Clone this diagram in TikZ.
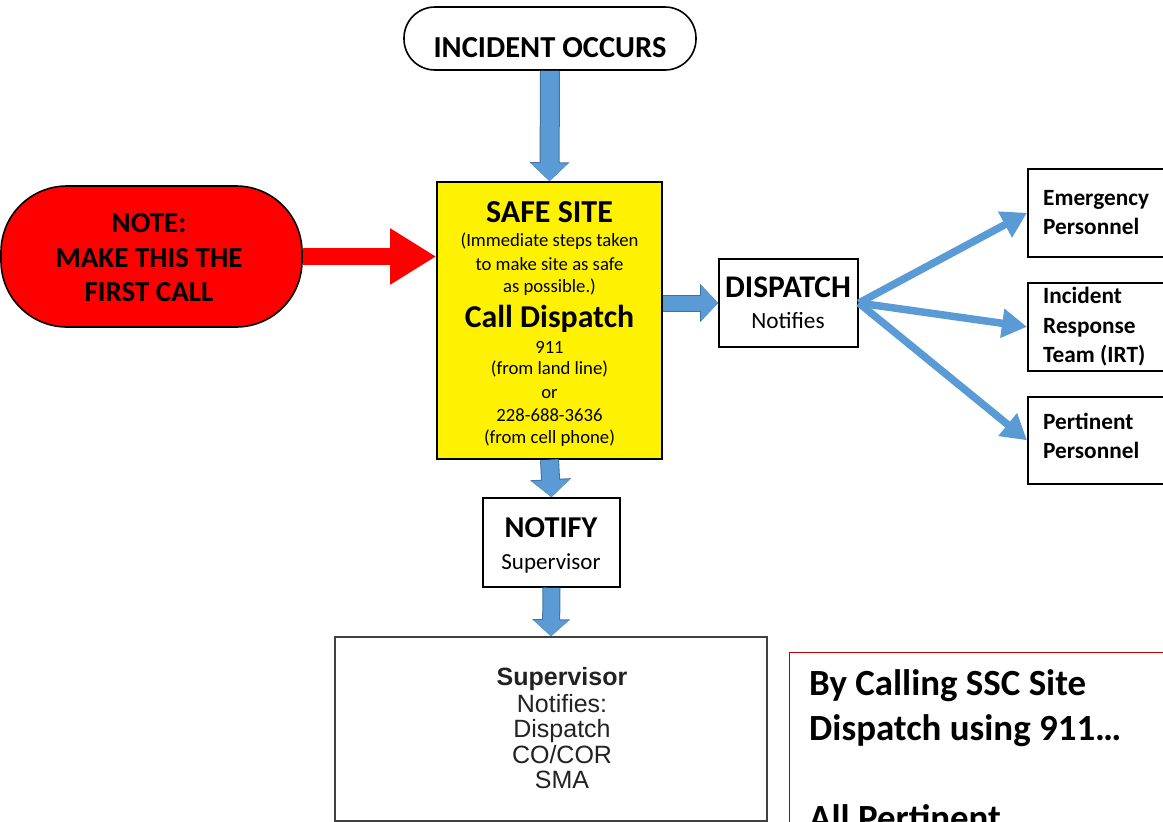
\documentclass[tikz,border=0pt]{standalone}
\usepackage{fontspec}
\setmainfont{Carlito}
\newfontfamily\arialf{Liberation Sans}
\usetikzlibrary{arrows.meta}
\definecolor{arrblue}{HTML}{5B9BD5}
\definecolor{arrdark}{HTML}{41719C}
\definecolor{notered}{HTML}{FF0000}
\definecolor{framered}{HTML}{C00000}
\definecolor{suptext}{HTML}{222222}
\newcommand{\fsz}[1]{\fontsize{#1}{#1}\selectfont}
\begin{document}
\begin{tikzpicture}[x=1pt,y=-1pt,
  box/.style={draw=black, line width=1.6pt, inner sep=0pt},
  txt/.style={anchor=base, inner sep=0pt},
  ltxt/.style={anchor=base west, inner sep=0pt},
  fanarrow/.style={draw=arrblue, line width=7.5pt, -{Triangle[length=25pt,width=28pt]}}
]
\useasboundingbox (0,0) rectangle (1163,822);
\clip (0,0) rectangle (1163,822);

% --- boxes ---
\node[box, fill=white, rounded corners=31pt, minimum width=292pt, minimum height=63pt] (inc) at (550,38.5) {};
\node[box, fill=yellow, minimum width=225pt, minimum height=277pt] (safe) at (549.5,320.5) {};
\node[box, fill=notered, rounded corners=66pt, minimum width=301pt, minimum height=141pt] (note) at (151.5,256.5) {};
\node[box, fill=white, minimum width=139pt, minimum height=88pt] (disp) at (788.5,303) {};
\node[box, fill=white, minimum width=150pt, minimum height=88pt, anchor=north west] (emer) at (1027,168) {};
\node[box, fill=white, minimum width=150pt, minimum height=88pt, anchor=north west] (irt) at (1027,282) {};
\node[box, fill=white, minimum width=150pt, minimum height=87pt, anchor=north west] (pert) at (1027,396) {};
\node[box, fill=white, minimum width=137pt, minimum height=89pt] (notify) at (551.5,542.5) {};
\node[draw=black!75, line width=1.4pt, inner sep=0pt, fill=white, minimum width=432pt, minimum height=184pt] (sup) at (551,729) {};
\node[draw=framered, line width=1.2pt, inner sep=0pt, minimum width=391pt, minimum height=188pt, anchor=north west] (call) at (789,652) {};

% --- texts ---
\node[txt, font=\bfseries\fsz{30.5}] (tinc) at (550,57) {INCIDENT OCCURS};

\node[txt, font=\bfseries\fsz{32}] (ts1) at (549.5,222) {SAFE SITE};
\node[txt, font=\fsz{18.7}] (ts2) at (549.5,246) {(Immediate steps taken};
\node[txt, font=\fsz{18.7}] (ts3) at (549.5,270) {to make site as safe};
\node[txt, font=\fsz{18.7}] (ts4) at (549.5,292) {as possible.)};
\node[txt, font=\bfseries\fsz{31.8}] (ts5) at (549.5,327) {Call Dispatch};
\node[txt, font=\fsz{18.7}] (ts6) at (549.5,353) {911};
\node[txt, font=\fsz{18.7}] (ts7) at (549.5,374) {(from land line)};
\node[txt, font=\fsz{18.7}] (ts8) at (549.5,398) {or};
\node[txt, font=\fsz{18.7}] (ts9) at (549.5,421) {228-688-3636};
\node[txt, font=\fsz{18.7}] (ts10) at (549.5,443) {(from cell phone)};

\node[txt, font=\bfseries\fsz{29}] (tn1) at (149,232) {NOTE:};
\node[txt, font=\bfseries\fsz{29}] (tn2) at (149,267) {MAKE THIS THE};
\node[txt, font=\bfseries\fsz{29}] (tn3) at (149,301) {FIRST CALL};

\node[txt, font=\bfseries\fsz{31.5}] (td1) at (788,297) {DISPATCH};
\node[txt, font=\fsz{23.3}] (td2) at (788,328) {Notifies};

\node[ltxt, font=\bfseries\fsz{23.3}] (te1) at (1043,205) {Emergency};
\node[ltxt, font=\bfseries\fsz{23.3}] (te2) at (1043,234) {Personnel};
\node[ltxt, font=\bfseries\fsz{23.3}] (ti1) at (1043,303) {Incident};
\node[ltxt, font=\bfseries\fsz{23.3}] (ti2) at (1043,333) {Response};
\node[ltxt, font=\bfseries\fsz{23.3}] (ti3) at (1043,362) {Team (IRT)};
\node[ltxt, font=\bfseries\fsz{23.3}] (tp1) at (1043,429) {Pertinent};
\node[ltxt, font=\bfseries\fsz{23.3}] (tp2) at (1043,458) {Personnel};

\node[txt, font=\bfseries\fsz{30.3}] (tno1) at (551,537) {NOTIFY};
\node[txt, font=\fsz{23}] (tno2) at (551,569) {Supervisor};

\node[txt, font=\arialf\bfseries\fsz{25}, text=suptext] (tsu1) at (562,685) {Supervisor};
\node[txt, font=\arialf\fsz{25}, text=suptext] (tsu2) at (562,712) {Notifies:};
\node[txt, font=\arialf\fsz{25}, text=suptext] (tsu3) at (562,737) {Dispatch};
\node[txt, font=\arialf\fsz{25}, text=suptext] (tsu4) at (562,763) {CO/COR};
\node[txt, font=\arialf\fsz{25}, text=suptext] (tsu5) at (562,788) {SMA};

\node[ltxt, font=\bfseries\fsz{36.9}] (tc1) at (809,695) {By Calling SSC Site};
\node[ltxt, font=\bfseries\fsz{36.9}] (tc2) at (809,740) {Dispatch using 911\dots};
\node[ltxt, font=\bfseries\fsz{36.9}] (tc3) at (809,830) {All Pertinent};

% --- connectors ---
\draw[draw=arrblue, line width=18pt, -{Triangle[length=18pt,width=36pt]},
  preaction={draw=arrdark, line width=20pt, -{Triangle[length=19pt,width=39pt]}}] (inc.south) -- (safe.north);
\draw[draw=arrblue, line width=17pt, -{Triangle[length=17pt,width=37pt]},
  preaction={draw=arrdark, line width=19pt, -{Triangle[length=18pt,width=40pt]}}] (safe.south) -- (notify.north);
\draw[draw=arrblue, line width=16pt, -{Triangle[length=16pt,width=34pt]},
  preaction={draw=arrdark, line width=18pt, -{Triangle[length=17pt,width=37pt]}}] (notify.south) -- (sup.north);
\draw[draw=arrblue, line width=15pt, -{Triangle[length=17pt,width=34pt]},
  preaction={draw=arrdark, line width=17pt, -{Triangle[length=18pt,width=37pt]}}] (safe.east |- disp.west) -- (disp.west);
\draw[draw=notered, line width=17pt, -{Triangle[length=46pt,width=53pt]}] (note.east) -- (safe.west |- note.east);
\draw[fanarrow] (disp.east) -- (emer.west);
\draw[fanarrow] (disp.east) -- (irt.west);
\draw[fanarrow] (disp.east) -- (pert.west);
\end{tikzpicture}
\end{document}
